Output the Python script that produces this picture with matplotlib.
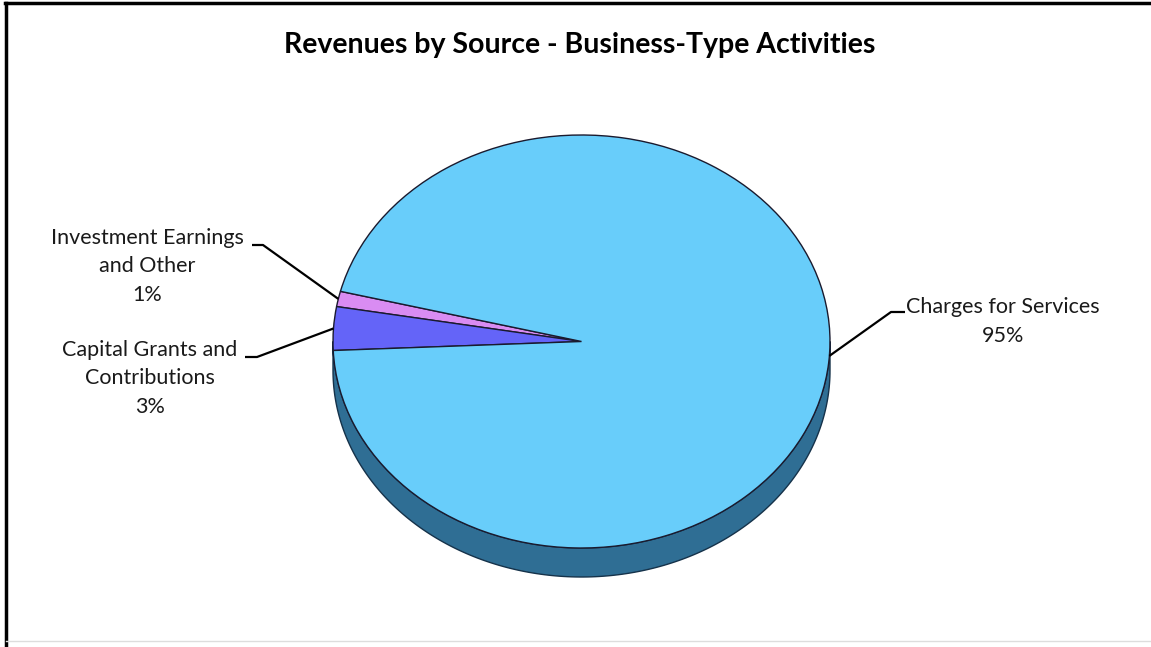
import numpy as np
import matplotlib
matplotlib.use("Agg")
import matplotlib.pyplot as plt
from matplotlib.patches import Polygon

# ---- data ----
categories = ["Investment Earnings\nand Other", "Capital Grants and\nContributions", "Charges for Services"]
values = [1.2, 3.4, 95.4]
pct_labels = ["1%", "3%", "95%"]
colors = ["#D98CF2", "#6464F8", "#68CDFA"]
title = "Revenues by Source - Business-Type Activities"

W, H = 1151, 647
fig = plt.figure(figsize=(W / 100, H / 100), dpi=100)
fig.patch.set_facecolor("white")

# overlay axes in pixel coords
ov = fig.add_axes([0, 0, 1, 1])
ov.set_xlim(0, W)
ov.set_ylim(H, 0)
ov.axis("off")
ov.set_zorder(5)
ov.patch.set_alpha(0)

# pie axes: bounding box of top ellipse
x0, x1, ytop, ybot = 333, 830, 135, 548
ax = fig.add_axes([x0 / W, (H - ybot) / H, (x1 - x0) / W, (ybot - ytop) / H])
end_angle_capital = 182.5
start = end_angle_capital - 360 * (values[0] + values[1]) / sum(values)
wedges, _ = ax.pie(values, colors=colors, startangle=start, counterclock=True,
                   radius=1.0, center=(0, 0),
                   wedgeprops=dict(edgecolor="#1a1a2e", linewidth=1.0))
ax.set_aspect("auto")
ax.set_xlim(-1, 1)
ax.set_ylim(-1, 1)
ax.axis("off")

# side (depth) of the 3D pie
depth = 29 / ((ybot - ytop) / 2)
th = np.radians(np.linspace(180, 360, 200))
top = np.column_stack([np.cos(th), np.sin(th)])
bot = np.column_stack([np.cos(th[::-1]), np.sin(th[::-1]) - depth])
side = Polygon(np.vstack([top, bot]), closed=True, facecolor="#2F6E94",
               edgecolor="#15324a", linewidth=1.0, zorder=0, clip_on=False)
ax.add_patch(side)
for w in wedges:
    w.set_zorder(2)

font = "Lato"
ov.text(580, 45, title, ha="center", va="center", fontsize=20.5,
        fontweight="bold", family=font, color="black")

# labels and leader lines
label_pos = [(147, 238), (150, 350), (1003, 307)]
line_pts = [[(252, 245), (263, 245)], [(245, 357), (257, 357)], [(905, 312), (891, 312)]]
fig.canvas.draw()
to_pix = ov.transData.inverted()
for i, w in enumerate(wedges):
    mid = np.radians((w.theta1 + w.theta2) / 2)
    if i == 2:
        mid = np.radians(-4)
    px = to_pix.transform(ax.transData.transform((np.cos(mid), np.sin(mid))))
    pts = line_pts[i] + [tuple(px)]
    xs, ys = zip(*pts)
    ov.plot(xs, ys, color="black", lw=1.6, solid_capstyle="butt")
    lx, ly = label_pos[i]
    lines = categories[i].split("\n") + [pct_labels[i]]
    for k, t in enumerate(lines):
        ov.text(lx, ly + 28.5 * k, t, ha="center", va="center", fontsize=15.5,
                family=font, color="#1a1a1a")

# frame (left and top lines, faint bottom)
ov.plot([6, 6], [3, H], color="black", lw=2.5)
ov.plot([5, W], [3, 3], color="black", lw=2.5)
ov.plot([6, W], [641, 641], color="#dddddd", lw=1)

fig.savefig("out.png", dpi=100)
